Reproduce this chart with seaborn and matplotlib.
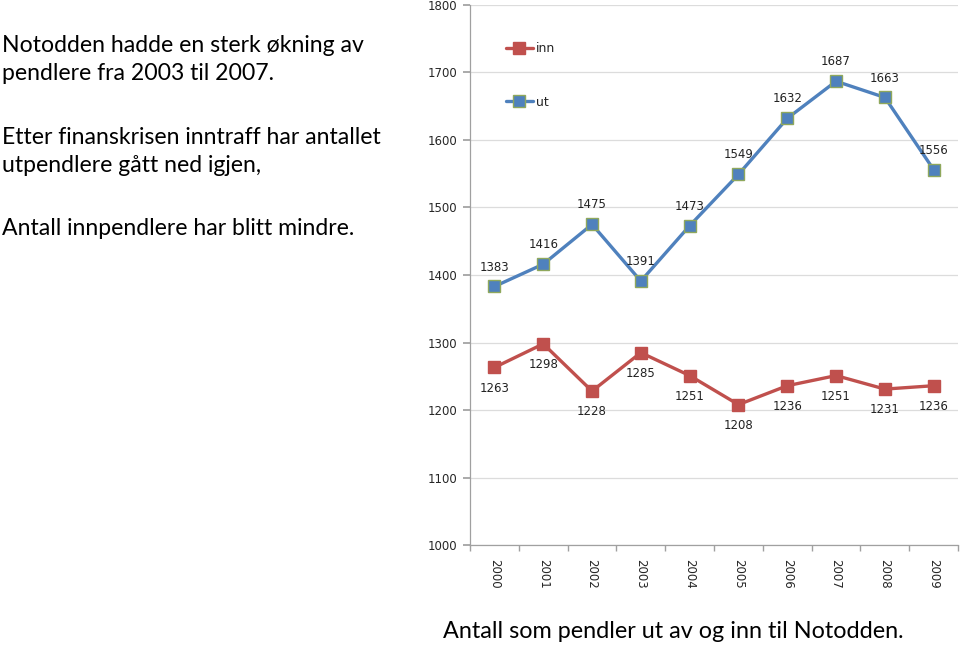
import matplotlib
matplotlib.use("Agg")
import matplotlib.pyplot as plt
import seaborn as sns
import pandas as pd
from matplotlib.ticker import FixedLocator
from matplotlib.lines import Line2D

years = ["2000", "2001", "2002", "2003", "2004", "2005", "2006", "2007", "2008", "2009"]
inn = [1263, 1298, 1228, 1285, 1251, 1208, 1236, 1251, 1231, 1236]
ut = [1383, 1416, 1475, 1391, 1473, 1549, 1632, 1687, 1663, 1556]
yticks = [1000, 1100, 1200, 1300, 1400, 1500, 1600, 1700, 1800]

df = pd.DataFrame({
    "år": years * 2,
    "antall": inn + ut,
    "serie": ["inn"] * len(years) + ["ut"] * len(years),
})

sns.set_theme(style="white")
plt.rcParams["font.family"] = ["Lato", "DejaVu Sans"]

fig = plt.figure(figsize=(9.6, 6.46), dpi=100)
ax = fig.add_axes([0.4896, 0.1563, 0.5084, 0.836])

red = "#C0504D"
blue = "#4F81BD"
sns.lineplot(data=df, x="år", y="antall", hue="serie", hue_order=["inn", "ut"],
             palette={"inn": red, "ut": blue}, marker="s", markersize=8,
             linewidth=2.4, ax=ax, legend=False, sort=False)
for line, ec in zip(ax.lines, [red, "#8FA85C"]):
    line.set_markeredgecolor(ec)
    line.set_markeredgewidth(1.0)

ax.set_ylim(1000, 1800)
ax.set_xlim(-0.5, len(years) - 0.5)
ax.set_yticks(yticks)
ax.set_yticklabels([str(v) for v in yticks], fontsize=8.5, family=["DejaVu Sans"])
ax.set_xticks(range(len(years)))
ax.set_xticklabels(years, rotation=-90, fontsize=8.5, family=["DejaVu Sans"])
ax.xaxis.set_minor_locator(FixedLocator([i - 0.5 for i in range(len(years) + 1)]))
ax.tick_params(axis="x", which="major", length=0, pad=10)
ax.tick_params(axis="x", which="minor", length=4, color="#A0A0A0", direction="out", bottom=True)
ax.tick_params(axis="y", length=5, color="#A0A0A0", direction="out", left=True, pad=4)
ax.set_xlabel("")
ax.set_ylabel("")
ax.grid(axis="y", color="#DCDCDC", linewidth=0.9)
for s in ["top", "right"]:
    ax.spines[s].set_visible(False)
for s in ["left", "bottom"]:
    ax.spines[s].set_color("#A0A0A0")
    ax.spines[s].set_linewidth(0.9)

for i, v in enumerate(ut):
    ax.annotate(str(v), (i, v), xytext=(0, 14), textcoords="offset points",
                ha="center", va="center", fontsize=8.5, color="#222222", family=["DejaVu Sans"])
for i, v in enumerate(inn):
    ax.annotate(str(v), (i, v), xytext=(0, -15), textcoords="offset points",
                ha="center", va="center", fontsize=8.5, color="#222222", family=["DejaVu Sans"])

handles = [Line2D([], [], color=red, marker="s", markersize=8, linewidth=2.4, markeredgecolor=red),
           Line2D([], [], color=blue, marker="s", markersize=8, linewidth=2.4, markeredgecolor="#8FA85C")]
leg = ax.legend(handles, ["inn", "ut"], loc="upper left", bbox_to_anchor=(0.05, 0.952),
                frameon=False, handlelength=2.2, handletextpad=0.25,
                labelspacing=3.25, prop={"family": ["DejaVu Sans"], "size": 9})

left_text = [
    ("Notodden hadde en sterk økning av", 46),
    ("pendlere fra 2003 til 2007.", 74),
    ("Etter finanskrisen inntraff har antallet", 137),
    ("utpendlere gått ned igjen,", 165),
    ("Antall innpendlere har blitt mindre.", 228),
]
for t, ypix in left_text:
    fig.text(2 / 960, 1 - ypix / 646, t, ha="left", va="center", fontsize=16.6, color="#000000")

fig.text(673 / 960, 1 - 632 / 646, "Antall som pendler ut av og inn til Notodden.",
         ha="center", va="center", fontsize=16.8, color="#000000")

fig.savefig("out.png", dpi=100, facecolor="white")
